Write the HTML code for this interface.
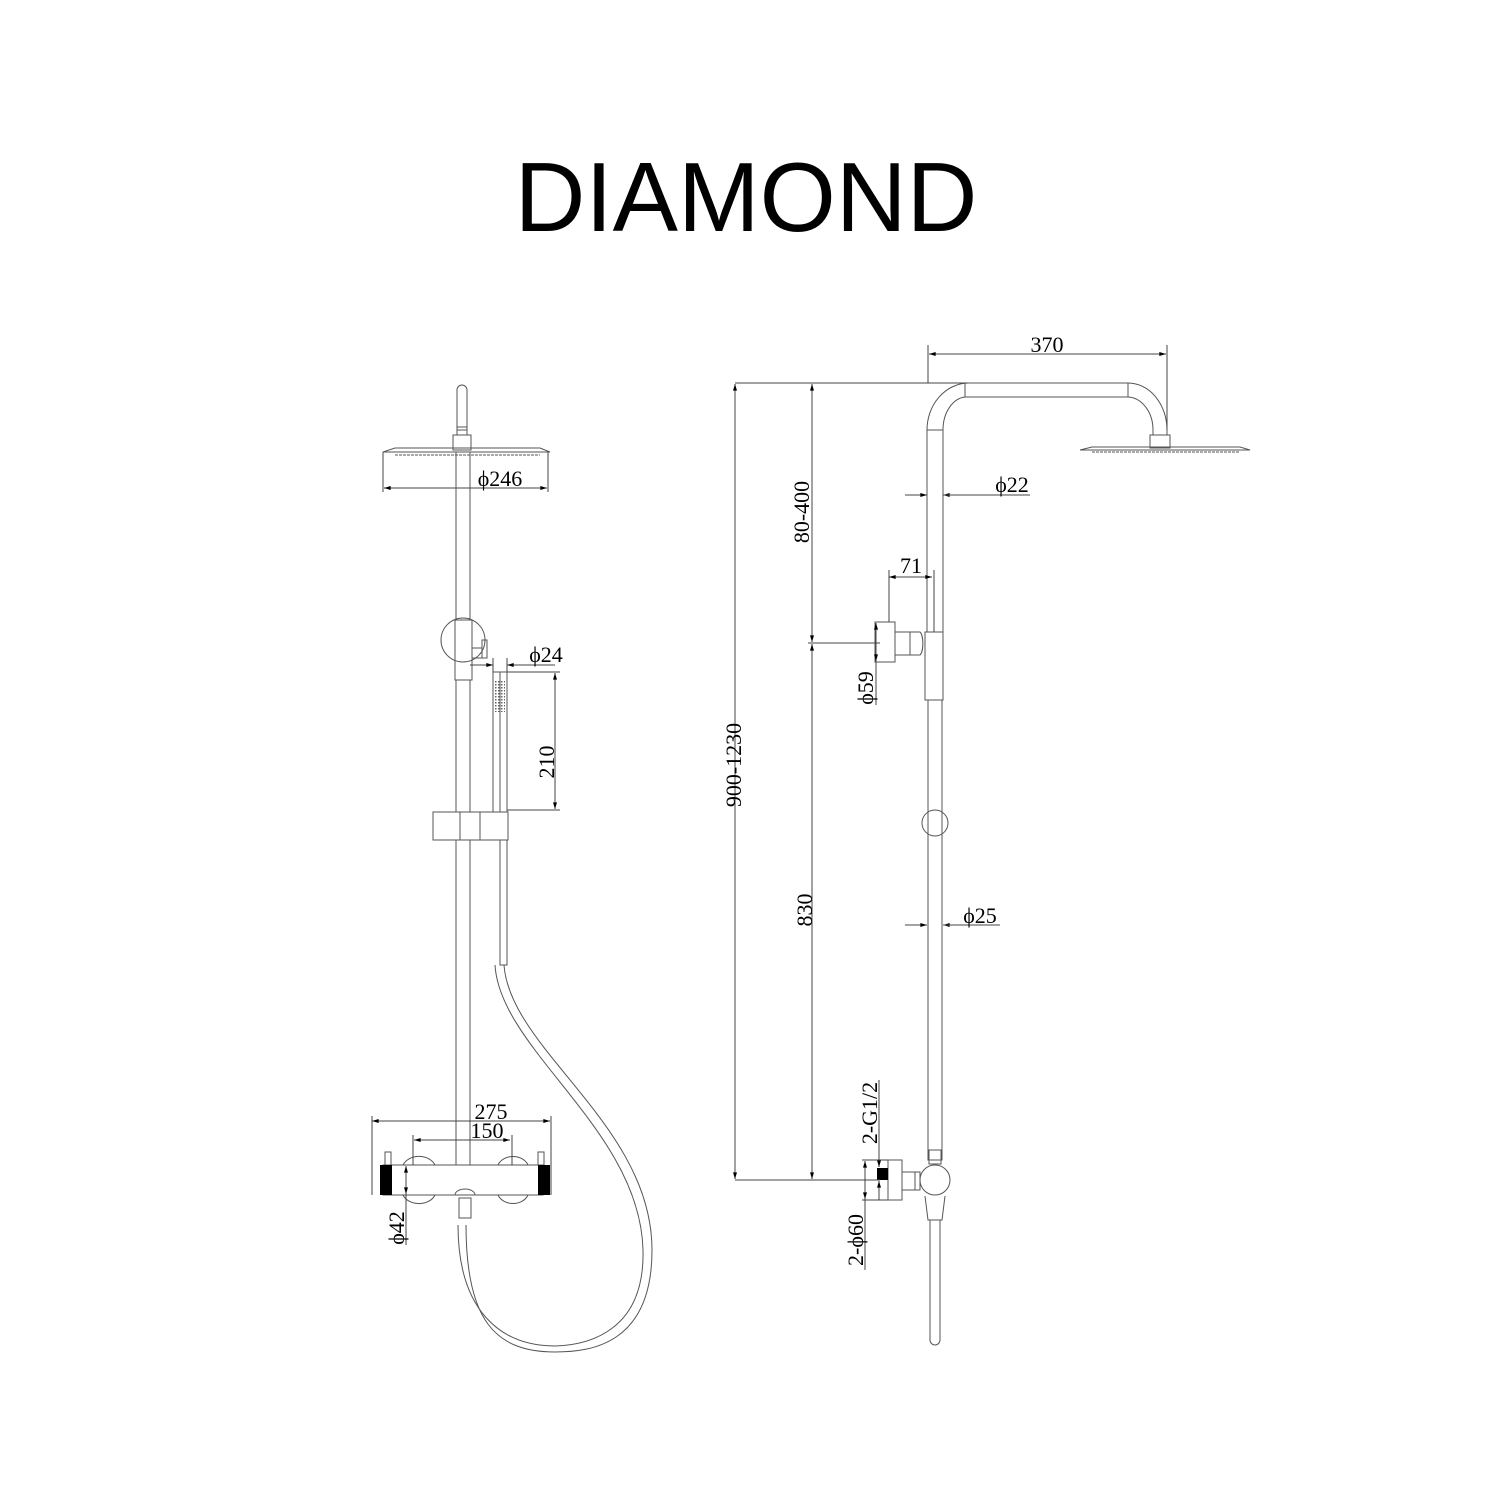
<!DOCTYPE html>
<html><head><meta charset="utf-8"><style>
html,body{margin:0;padding:0;background:#fff}
svg{display:block}
text{font-family:"Liberation Serif",serif;fill:#000}
</style></head><body>
<svg width="1500" height="1500" viewBox="0 0 1500 1500" xmlns="http://www.w3.org/2000/svg">
<defs>
<marker id="a" viewBox="0 0 10 6" refX="10" refY="3" markerWidth="12" markerHeight="4" orient="auto-start-reverse" markerUnits="userSpaceOnUse"><path d="M0,0L10,3L0,6z" fill="#000"/></marker>
<pattern id="dots" width="3" height="3" patternUnits="userSpaceOnUse"><rect width="1.5" height="1.5" fill="#666"/></pattern>
</defs>
<text x="746" y="231" font-size="98" text-anchor="middle" style="font-family:'Liberation Sans',sans-serif">DIAMOND</text>

<g fill="none" stroke="#555" stroke-width="1">
<path d="M457,430 V390 a5,5 0 0 1 10,0 V430 Z"/>
<rect x="457" y="427" width="10" height="8"/>
<rect x="453" y="435" width="18" height="15"/>
<path d="M383,452 L395,448 H540 L550,452 Z"/>
<line x1="395" y1="455" x2="540" y2="455" stroke-dasharray="3,1"/>
<rect x="456" y="452" width="14" height="168"/>
<circle cx="463" cy="640" r="22"/>
<rect x="455" y="620" width="17" height="60"/>
<rect x="472" y="648" width="10" height="10"/>
<rect x="482" y="640" width="5" height="18"/>
<rect x="456" y="680" width="14" height="132"/>
<rect x="456" y="840" width="14" height="325"/>
<rect x="433" y="812" width="27" height="28"/>
<rect x="460" y="812" width="20" height="28"/>
<rect x="480" y="812" width="28" height="28"/>
<rect x="493" y="672" width="14" height="140"/>
<line x1="500" y1="672" x2="500" y2="812"/>
<rect x="500" y="840" width="7" height="125"/>
<path d="M495,965 C500,1050 640,1130 643,1250 C645,1330 590,1345 555,1346 C500,1346 458,1310 458,1225"/>
<path d="M504,965 C510,1050 652,1125 652,1250 C652,1345 590,1352 555,1352 C495,1352 466,1320 466,1225"/>
<rect x="383" y="1165" width="160" height="30"/>
<path d="M403,1165 a17,13 0 0 1 32,0 M403,1195 a17,13 0 0 0 32,0"/>
<path d="M498,1165 a16,13 0 0 1 30,0 M498,1195 a16,13 0 0 0 30,0"/>
<path d="M455,1195 a10,6 0 0 1 20,0 Z"/>
<rect x="459" y="1198" width="12" height="20"/>
<rect x="385" y="1152" width="6" height="13"/>
<rect x="538" y="1152" width="6" height="13"/>
<path d="M927,430 A42,47 0 0 1 968,383 H1128 A39,47 0 0 1 1167,430 V435 H1153 V430 A26,33 0 0 0 1128,397 H965 A24,33 0 0 0 943,430"/>
<line x1="965" y1="383" x2="965" y2="397"/><line x1="1128" y1="383" x2="1128" y2="397"/>
<rect x="1150" y="435" width="20" height="13"/>
<path d="M1080,450 L1092,447 H1240 L1250,450 Z"/>
<line x1="1092" y1="452" x2="1240" y2="452" stroke-dasharray="3,1"/>
<rect x="927" y="430" width="16" height="202"/>
<rect x="925" y="632" width="18" height="68"/>
<rect x="875" y="622" width="20" height="40"/>
<rect x="895" y="632" width="15" height="23"/>
<path d="M910,632 h10 a4,12 0 0 1 0,23 h-10"/>
<rect x="928" y="700" width="14" height="460"/>
<circle cx="935" cy="823" r="13"/>
<circle cx="935" cy="1180" r="15"/>
<rect x="929" y="1150" width="12" height="14"/>
<rect x="888" y="1160" width="14" height="40"/>
<rect x="902" y="1172" width="13" height="18"/>
<path d="M915,1172 h5 v18 h-5"/>
<path d="M925,1196 L928,1220 H942 L945,1196"/>
<path d="M930,1220 V1340 a5,5 0 0 0 10,0 V1220"/>
</g>
<g fill="#000">
<rect x="380" y="1165" width="12" height="30"/>
<rect x="538" y="1165" width="12" height="30"/>
<rect x="877" y="1168" width="11" height="12"/>
</g>
<rect x="494" y="680" width="11" height="32" fill="url(#dots)"/>

<g stroke="#444" stroke-width="1" fill="none">
<line x1="383" y1="452" x2="383" y2="492"/><line x1="548" y1="452" x2="548" y2="492"/>
<line x1="384" y1="488" x2="547" y2="488" marker-start="url(#a)" marker-end="url(#a)"/>
<line x1="470" y1="665" x2="493" y2="665" marker-end="url(#a)"/>
<line x1="507" y1="665" x2="555" y2="665"/><line x1="527" y1="665" x2="507" y2="665" marker-end="url(#a)"/>
<line x1="493" y1="658" x2="493" y2="672"/><line x1="507" y1="658" x2="507" y2="672"/>
<line x1="507" y1="672" x2="560" y2="672"/><line x1="507" y1="810" x2="560" y2="810"/>
<line x1="555" y1="673" x2="555" y2="809" marker-start="url(#a)" marker-end="url(#a)"/>
<line x1="372" y1="1121" x2="550" y2="1121" marker-start="url(#a)" marker-end="url(#a)"/>
<line x1="372" y1="1116" x2="372" y2="1195"/><line x1="551" y1="1116" x2="551" y2="1195"/>
<line x1="414" y1="1140" x2="510" y2="1140" marker-start="url(#a)" marker-end="url(#a)"/>
<line x1="413" y1="1135" x2="413" y2="1165"/><line x1="512" y1="1135" x2="512" y2="1165"/>
<line x1="406" y1="1166" x2="406" y2="1194" marker-start="url(#a)" marker-end="url(#a)"/>
<line x1="406" y1="1194" x2="406" y2="1245"/>
<line x1="928" y1="345" x2="928" y2="383"/><line x1="1167" y1="345" x2="1167" y2="430"/>
<line x1="929" y1="354" x2="1166" y2="354" marker-start="url(#a)" marker-end="url(#a)"/>
<line x1="735" y1="383" x2="968" y2="383"/>
<line x1="735" y1="384" x2="735" y2="1179" marker-start="url(#a)" marker-end="url(#a)"/>
<line x1="812" y1="384" x2="812" y2="642" marker-start="url(#a)" marker-end="url(#a)"/>
<line x1="812" y1="644" x2="812" y2="1179" marker-start="url(#a)" marker-end="url(#a)"/>
<line x1="808" y1="643" x2="880" y2="643"/>
<line x1="735" y1="1180" x2="880" y2="1180"/>
<line x1="905" y1="495" x2="927" y2="495" marker-end="url(#a)"/>
<line x1="965" y1="495" x2="943" y2="495" marker-end="url(#a)"/>
<line x1="943" y1="495" x2="1030" y2="495"/>
<line x1="889" y1="577" x2="932" y2="577" marker-start="url(#a)" marker-end="url(#a)"/>
<line x1="889" y1="570" x2="889" y2="622"/><line x1="934" y1="570" x2="934" y2="632"/>
<line x1="876" y1="623" x2="876" y2="661" marker-start="url(#a)" marker-end="url(#a)"/>
<line x1="876" y1="661" x2="876" y2="705"/>
<line x1="905" y1="925" x2="927" y2="925" marker-end="url(#a)"/>
<line x1="965" y1="925" x2="943" y2="925" marker-end="url(#a)"/>
<line x1="943" y1="925" x2="1000" y2="925"/>
<line x1="879" y1="1080" x2="879" y2="1167" marker-end="url(#a)"/>
<line x1="879" y1="1200" x2="879" y2="1181" marker-end="url(#a)"/>
<line x1="865" y1="1161" x2="865" y2="1199" marker-start="url(#a)" marker-end="url(#a)"/>
<line x1="865" y1="1199" x2="865" y2="1270"/>
<line x1="862" y1="1160" x2="888" y2="1160"/><line x1="862" y1="1200" x2="888" y2="1200"/>
</g>
<g font-size="22">
<text x="500" y="486" text-anchor="middle">ϕ246</text>
<text x="546" y="662" text-anchor="middle">ϕ24</text>
<text transform="translate(554,762) rotate(-90)" text-anchor="middle">210</text>
<text x="491" y="1119" text-anchor="middle">275</text>
<text x="487" y="1138" text-anchor="middle">150</text>
<text transform="translate(404,1228) rotate(-90)" text-anchor="middle">ϕ42</text>
<text x="1047" y="352" text-anchor="middle">370</text>
<text transform="translate(809,512) rotate(-90)" text-anchor="middle">80-400</text>
<text transform="translate(741,765) rotate(-90)" text-anchor="middle">900-1230</text>
<text transform="translate(812,910) rotate(-90)" text-anchor="middle">830</text>
<text x="1012" y="492" text-anchor="middle">ϕ22</text>
<text x="911" y="573" text-anchor="middle">71</text>
<text transform="translate(873,688) rotate(-90)" text-anchor="middle">ϕ59</text>
<text x="980" y="923" text-anchor="middle">ϕ25</text>
<text transform="translate(877,1113) rotate(-90)" text-anchor="middle">2-G1/2</text>
<text transform="translate(863,1240) rotate(-90)" text-anchor="middle">2-ϕ60</text>
</g>
</svg>
</body></html>
